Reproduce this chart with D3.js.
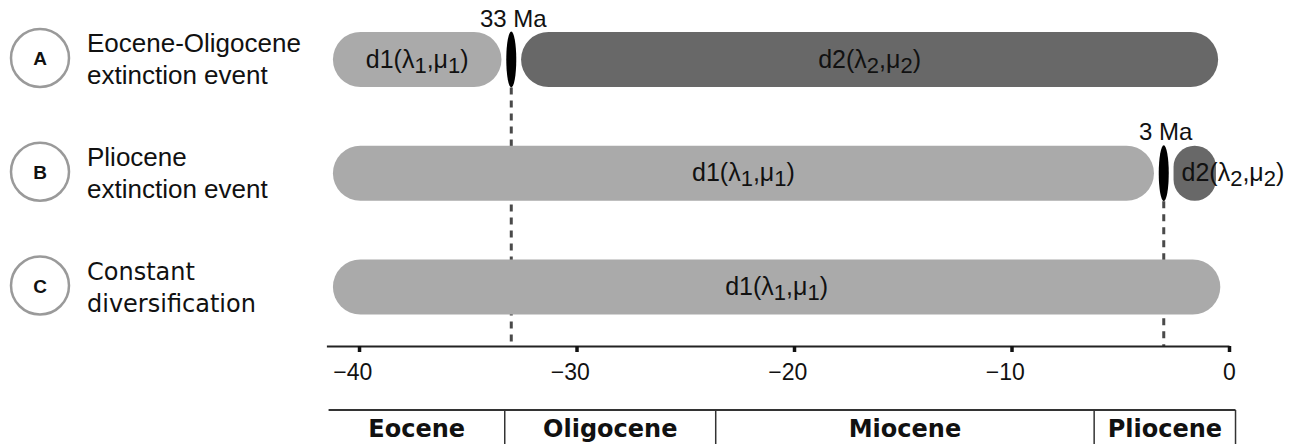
<!DOCTYPE html>
<html>
<head>
<meta charset="utf-8">
<script src="https://cdn.jsdelivr.net/npm/d3@7"></script>
<style>
  html, body { margin: 0; padding: 0; background: #fff; }
  svg { display: block; }
</style>
</head>
<body>
<svg id="chart" width="1291" height="444"></svg>
<script>
// Diversification models
const models = ["A", "B", "C"];
const modelLine1 = ["Eocene-Oligocene", "Pliocene", "Constant"];
const modelLine2 = ["extinction event", "extinction event", "diversification"];
const modelFont = ["Liberation Sans", "Liberation Sans", "DejaVu Sans"];

// Rate-shift events (Ma, negative = before present)
const eventModel = ["A", "B"];
const eventTime = [-33, -3];
const eventLabel = ["33 Ma", "3 Ma"];

// Diversification regimes per model
const segModel = ["A", "A", "B", "B", "C"];
const segName = ["d1", "d2", "d1", "d2", "d1"];
const segIndex = ["1", "2", "1", "2", "1"];
const segFrom = [-41.2, -33, -41.2, -3, -41.2];
const segTo = [-33, -0.5, -3, -0.6, -0.4];

// Time axis
const tickValues = [-40, -30, -20, -10, 0];

// Geological epochs
const epochNames = ["Eocene", "Oligocene", "Miocene", "Pliocene"];
const epochBounds = [-41.4, -33.3, -23.6, -6.2, 0.3];

const svg = d3.select("#chart");
const x = d3.scaleLinear().domain([-41.5, 0]).range([326.4, 1229]);
const y = d3.scalePoint().domain(models).range([59.5, 287]);
const barH = 55;
const gap = 0.45;
const axisY = 346;
const lightGray = "#aaaaaa", darkGray = "#686868";

// Row labels with circled letters
const rowG = svg.append("g").selectAll("g").data(models).join("g")
  .attr("transform", d => `translate(0,${y(d) - 1.5})`);
rowG.append("circle").attr("cx", 40).attr("cy", 0).attr("r", 29)
  .attr("fill", "#fff").attr("stroke", "#9a9a9a").attr("stroke-width", 2.5);
rowG.append("text").attr("x", 40).attr("y", 7).attr("text-anchor", "middle")
  .attr("font-family", "Liberation Sans, Arial, sans-serif").attr("font-weight", "bold")
  .attr("font-size", 19).attr("fill", "#111").text(d => d);
rowG.append("text").attr("x", 87).attr("y", -6)
  .attr("font-family", (d, i) => modelFont[i]).attr("font-size", (d, i) => i === 2 ? 24 : 26)
  .attr("fill", "#111").text((d, i) => modelLine1[i]);
rowG.append("text").attr("x", 87).attr("y", 26)
  .attr("font-family", (d, i) => modelFont[i]).attr("font-size", (d, i) => i === 2 ? 24 : 26)
  .attr("fill", "#111").text((d, i) => modelLine2[i]);

// Dashed event lines down to the time axis
svg.append("g").selectAll("line").data(eventTime).join("line")
  .attr("x1", d => x(d)).attr("x2", d => x(d))
  .attr("y1", (d, i) => y(eventModel[i]) + 28).attr("y2", axisY)
  .attr("stroke", "#4a4a4a").attr("stroke-width", 3).attr("stroke-dasharray", "7,6");

// Regime bars: d2 starts just after the event, d1 stops just before it
const segs = segModel.map((m, i) => {
  const startsAtEvent = segName[i] === "d2";
  const endsAtEvent = segName[i] === "d1" && m !== "C";
  return {
    m, name: segName[i], idx: segIndex[i],
    from: startsAtEvent ? segFrom[i] + gap : segFrom[i],
    to: endsAtEvent ? segTo[i] - gap : segTo[i]
  };
});
svg.append("g").selectAll("rect").data(segs).join("rect")
  .attr("x", d => x(d.from)).attr("width", d => x(d.to) - x(d.from))
  .attr("y", d => y(d.m) - barH / 2).attr("height", barH)
  .attr("rx", d => Math.min(barH / 2, (x(d.to) - x(d.from)) / 2))
  .attr("fill", d => d.name === "d1" ? lightGray : darkGray);

// Regime labels d(λ,μ) with subscripts
const labels = svg.append("g").selectAll("text").data(segs).join("text")
  .attr("font-family", "Liberation Sans, Arial, sans-serif").attr("font-size", 25)
  .attr("fill", "#111")
  .attr("y", d => y(d.m) + 8);
labels.each(function(d) {
  const t = d3.select(this);
  t.append("tspan").text(d.name + "(λ");
  t.append("tspan").attr("dy", 5).attr("font-size", 22).text(d.idx);
  t.append("tspan").attr("dy", -5).text(",μ");
  t.append("tspan").attr("dy", 5).attr("font-size", 22).text(d.idx);
  t.append("tspan").attr("dy", -5).text(")");
  const w = this.getComputedTextLength();
  const segW = x(d.to) - x(d.from);
  if (w > segW) {
    t.attr("text-anchor", "start").attr("x", x(d.from) + 8);
  } else {
    t.attr("text-anchor", "middle").attr("x", (x(d.from) + x(d.to)) / 2);
  }
});

// Event markers and labels
svg.append("g").selectAll("ellipse").data(eventTime).join("ellipse")
  .attr("cx", d => x(d)).attr("cy", (d, i) => y(eventModel[i]))
  .attr("rx", 5).attr("ry", 28).attr("fill", "#000");
svg.append("g").selectAll("text").data(eventTime).join("text")
  .attr("x", d => x(d) + 2).attr("y", (d, i) => y(eventModel[i]) - 33)
  .attr("text-anchor", "middle")
  .attr("font-family", "Liberation Sans, Arial, sans-serif").attr("font-size", 24)
  .attr("fill", "#111").text((d, i) => eventLabel[i]);

// Time axis
const axis = d3.axisBottom(x).tickValues(tickValues).tickSizeInner(6).tickSizeOuter(0)
  .tickFormat(d => d < 0 ? "\u2212" + Math.abs(d) : String(d));
const axG = svg.append("g").attr("transform", `translate(0,${axisY})`).call(axis);
axG.select(".domain").attr("stroke", "#222").attr("stroke-width", 2);
axG.selectAll(".tick line").attr("stroke", "#111").attr("stroke-width", 3.5);
axG.selectAll(".tick text")
  .attr("y", 18).attr("dx", d => d < 0 ? -6.7 : 0)
  .attr("font-family", "Liberation Sans, Arial, sans-serif").attr("font-size", 23)
  .attr("fill", "#111");

// Epoch table
const epG = svg.append("g");
const tableTop = 410;
epG.append("line").attr("x1", x(epochBounds[0])).attr("x2", x(epochBounds[epochBounds.length - 1]))
  .attr("y1", tableTop).attr("y2", tableTop).attr("stroke", "#333").attr("stroke-width", 2);
epG.selectAll("line.div").data(epochBounds.slice(1)).join("line").attr("class", "div")
  .attr("x1", d => x(d)).attr("x2", d => x(d))
  .attr("y1", tableTop).attr("y2", 444).attr("stroke", "#333").attr("stroke-width", 1.5);
epG.selectAll("text").data(epochNames).join("text")
  .attr("x", (d, i) => (x(epochBounds[i]) + x(epochBounds[i + 1])) / 2)
  .attr("y", 437).attr("text-anchor", "middle")
  .attr("font-family", "DejaVu Sans, Verdana, sans-serif").attr("font-weight", "bold")
  .attr("font-size", 24).attr("fill", "#111").text(d => d);
</script>
</body>
</html>
